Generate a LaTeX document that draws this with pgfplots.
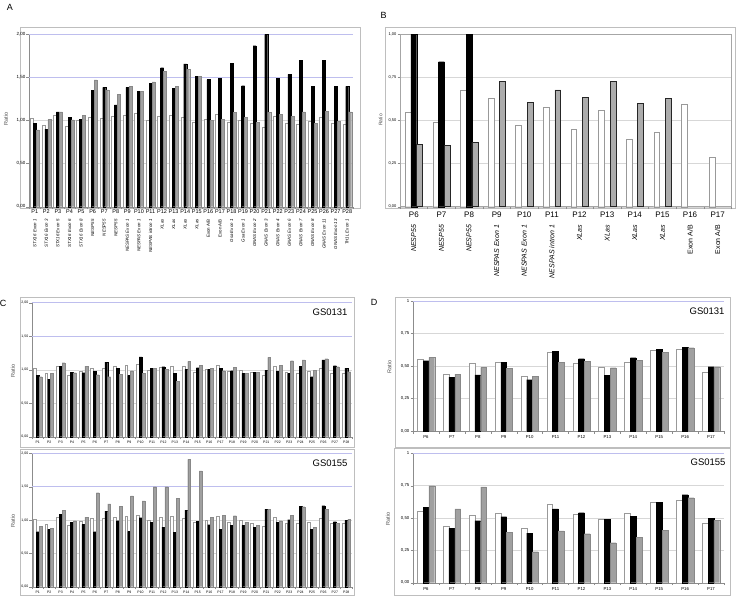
\documentclass[border=0pt]{standalone}
\usepackage{fontspec}
\setmainfont{Liberation Sans}
\usepackage{graphicx}
\usepackage{pgfplots}
\usepackage{pgfplotstable}
\pgfplotsset{compat=1.18}

\definecolor{gbar}{RGB}{160,160,160}
\definecolor{bgrid}{RGB}{190,190,238}
\definecolor{ggrid}{RGB}{215,215,215}
\definecolor{framec}{RGB}{190,190,190}

\newcommand\fs[1]{\fontsize{#1}{#1}\selectfont}
% two-level category labels: P number, then rotated region name
\newcommand\la[2]{\shortstack{#1\\[2.5pt]{\fs{4.4}\rotatebox{90}{\itshape #2}}}}
\newcommand\lb[2]{\shortstack{#1\\[4pt]{\fs{7}\rotatebox{90}{\itshape #2}}}}

\pgfplotstableread{
x w k g
1 1.025 0.967 0.89
2 0.948 0.90 1.01
3 1.056 1.10 1.10
4 0.93 1.037 1.006
5 0.998 1.017 1.06
6 1.033 1.35 1.47
7 1.03 1.385 1.354
8 1.048 1.18 1.304
9 1.064 1.385 1.393
10 1.083 1.335 1.342
11 1.006 1.43 1.447
12 1.052 1.613 1.574
13 1.064 1.377 1.393
14 1.044 1.656 1.594
15 0.979 1.516 1.51
16 1.017 1.474 1.002
17 1.075 1.486 1.017
18 0.979 1.66 1.095
19 1.006 1.404 1.04
20 0.967 1.868 0.979
21 0.928 2.00 1.095
22 1.052 1.49 1.07
23 0.971 1.536 1.048
24 0.955 1.70 1.10
25 0.99 1.40 0.967
26 1.04 1.70 1.11
27 0.967 1.397 0.994
28 0.955 1.397 1.10
}\tA

\pgfplotstableread{
x w k g
1 0.551 1.00 0.362
2 0.493 0.841 0.354
3 0.673 1.00 0.371
4 0.632 nan 0.725
5 0.474 nan 0.603
6 0.576 nan 0.677
7 0.449 nan 0.634
8 0.561 nan 0.725
9 0.393 nan 0.60
10 0.435 nan 0.627
11 0.596 nan nan
12 0.286 nan nan
}\tB

\pgfplotstableread{
x w k g
1 1.02 0.915 0.895
2 0.945 0.86 0.945
3 1.045 1.055 1.105
4 0.915 0.965 0.955
5 0.985 0.955 1.055
6 1.02 0.98 0.925
7 1.02 1.115 0.895
8 1.045 1.02 0.935
9 1.065 0.915 0.985
10 1.085 1.19 0.945
11 1.0 1.025 1.02
12 1.035 1.045 1.005
13 1.055 0.945 0.83
14 1.045 1.005 1.125
15 0.965 1.03 1.07
16 1.01 1.01 1.025
17 1.07 1.02 0.985
18 0.98 0.985 1.035
19 0.995 0.945 0.945
20 0.96 0.96 0.96
21 0.915 0.995 1.185
22 1.055 0.98 1.07
23 0.965 0.945 1.135
24 0.95 1.05 1.145
25 0.98 0.895 0.995
26 1.025 1.145 1.165
27 0.955 1.06 1.045
28 0.95 1.025 0.97
}\tCa

\pgfplotstableread{
x w k g
1 1.01 0.825 0.91
2 0.94 0.86 0.875
3 1.04 1.085 1.145
4 0.92 0.965 0.99
5 0.98 0.935 1.045
6 1.02 0.825 1.41
7 1.02 1.135 1.24
8 1.04 0.99 1.205
9 1.055 0.83 1.36
10 1.07 1.035 1.285
11 0.99 0.965 1.50
12 1.035 0.895 1.50
13 1.055 0.82 1.325
14 1.03 1.15 1.91
15 0.97 0.98 1.735
16 1.0 0.93 1.04
17 1.06 0.865 1.07
18 0.97 0.92 1.065
19 0.995 0.92 0.965
20 0.955 0.895 0.92
21 0.91 1.165 1.16
22 1.04 0.965 0.99
23 0.95 1.005 1.07
24 0.95 1.205 1.20
25 0.97 0.86 0.89
26 1.025 1.215 1.165
27 0.955 0.975 0.95
28 0.945 0.995 1.01
}\tCb

\pgfplotstableread{
x w k g
1 0.551 0.541 0.567
2 0.436 0.415 0.438
3 0.521 0.431 0.49
4 0.533 0.526 0.482
5 0.423 0.395 0.421
6 0.605 0.615 0.528
7 0.523 0.556 0.536
8 0.487 0.426 0.487
9 0.531 0.564 0.546
10 0.618 0.628 0.605
11 0.631 0.644 0.641
12 0.454 0.495 0.495
}\tDa

\pgfplotstableread{
x w k g
1 0.554 0.582 0.75
2 0.438 0.42 0.57
3 0.521 0.479 0.74
4 0.536 0.51 0.389
5 0.425 0.384 0.24
6 0.606 0.57 0.40
7 0.528 0.541 0.379
8 0.49 0.492 0.309
9 0.536 0.513 0.35
10 0.621 0.621 0.407
11 0.637 0.68 0.657
12 0.461 0.497 0.482
}\tDb

\pgfplotsset{
  panel/.style={
    scale only axis, anchor=north west, ybar=0pt, ymin=0, clip=false,
    axis x line*=bottom, axis y line*=left,
    axis line style={-, draw=gray!90, line width=0.4pt},
    xmin=0.5, enlarge x limits=false,
    major x tick style={draw=none},
    minor x tick style={draw=gray!90, line width=0.3pt},
    ytick style={draw=gray!90, line width=0.3pt},
    major tick length=2.5pt, minor tick length=2.5pt, tick align=outside,
    ymajorgrids, major grid style={ggrid, line width=0.4pt},
    extra y tick style={grid=major, major grid style={bgrid, line width=0.6pt}},
    yticklabel style={inner sep=1pt},
    xticklabel style={inner sep=0.5pt, anchor=north},
  },
  wb/.style={fill=white, draw=gray!80, line width=0.4pt},
  kb/.style={fill=black, draw=black, line width=0.3pt},
  gb/.style={fill=gbar, draw=gbar!85!black, line width=0.3pt},
}

\begin{document}
\begin{tikzpicture}
\useasboundingbox (0,0) rectangle (740pt,-598pt);

% panel frames
\draw[framec, line width=0.6pt] (20pt,-27pt) rectangle (360pt,-208pt);
\draw[framec, line width=0.6pt] (385pt,-27pt) rectangle (735pt,-208pt);
\draw[framec, line width=0.6pt] (20pt,-297pt) rectangle (354pt,-447pt);
\draw[framec, line width=0.6pt] (20pt,-449pt) rectangle (354pt,-595pt);
\draw[framec, line width=0.6pt] (395pt,-297pt) rectangle (730pt,-447pt);
\draw[framec, line width=0.6pt] (394pt,-448pt) rectangle (730pt,-595pt);

% ---- A
\begin{axis}[panel, at={(29pt,-34.3pt)}, width=324pt, height=172.4pt,
  xmax=28.5, ymax=2, bar width=3pt,
  ytick={0,0.5,1}, yticklabels={{0,00},{0,50},{1,00}},
  extra y ticks={1.5,2}, extra y tick labels={{1,50},{2,00}},
  yticklabel style={font=\fs{4.5}},
  xtick={1,...,28}, minor xtick={0.5,1.5,...,28.5},
  xticklabel style={font=\fs{5.5}},
  xticklabels={\la{P1}{STX16 Exon 1},\la{P2}{STX16 Exon 3},\la{P3}{STX16 Exon 5},
    \la{P4}{STX16 Exon 6},\la{P5}{STX16 Exon 8},\la{P6}{NESP55},\la{P7}{NESP55},
    \la{P8}{NESP55},\la{P9}{NESPAS Exon 1},\la{P10}{NESPAS Exon 1},
    \la{P11}{NESPAS intron 1},\la{P12}{XLas},\la{P13}{XLas},\la{P14}{XLas},
    \la{P15}{XLas},\la{P16}{\upshape Exon A/B},\la{P17}{\upshape Exon A/B},
    \la{P18}{Gsa Exon 1},\la{P19}{Gsa Exon 1},\la{P20}{GNAS Exon 2},
    \la{P21}{GNAS Exon 3},\la{P22}{GNAS Exon 4},\la{P23}{GNAS Exon 6},
    \la{P24}{GNAS Exon 7},\la{P25}{GNAS Exon 8},\la{P26}{GNAS Exon 11},
    \la{P27}{GNAS Exon 13},\la{P28}{TH1L Exon 1}}]
\addplot[wb] table[x=x,y=w]{\tA};
\addplot[kb] table[x=x,y=k]{\tA};
\addplot[gb] table[x=x,y=g]{\tA};
\end{axis}

% ---- B
\begin{axis}[panel, at={(400pt,-34.3pt)}, width=331.5pt, height=172.4pt,
  axis lines=box, axis line style={draw=gray!70, line width=0.5pt}, tick pos=left,
  xmax=12.5, ymax=1, bar width=5.8pt,
  ytick={0,0.25,0.5,0.75,1}, yticklabels={{0,00},{0,25},{0,50},{0,75},{1,00}},
  yticklabel style={font=\fs{4}},
  xtick={1,...,12}, minor xtick={0.5,1.5,...,12.5},
  xticklabel style={font=\fs{8}, inner sep=3pt},
  xticklabels={\lb{P6}{NESP55},\lb{P7}{NESP55},\lb{P8}{NESP55},
    \lb{P9}{NESPAS Exon 1},\lb{P10}{NESPAS Exon 1},\lb{P11}{NESPAS intron 1},
    \lb{P12}{XLas},\lb{P13}{XLas},\lb{P14}{XLas},\lb{P15}{XLas},
    \lb{P16}{\upshape Exon A/B},\lb{P17}{\upshape Exon A/B}}]
\addplot[wb] table[x=x,y=w]{\tB};
\addplot[kb] table[x=x,y=k]{\tB};
\addplot[gb, fill=gray!65, draw=gray!30!black, line width=0.5pt] table[x=x,y=g]{\tB};
\end{axis}

% ---- C top
\begin{axis}[panel, at={(32pt,-302.7pt)}, width=320pt, height=134pt,
  xmax=28.5, ymax=2, bar width=2.9pt,
  ytick={0,0.5,1}, yticklabels={{0,00},{0,50},{1,00}},
  extra y ticks={1.5,2}, extra y tick labels={{1,50},{2,00}},
  yticklabel style={font=\fs{3.5}},
  xtick={1,...,28}, minor xtick={0.5,1.5,...,28.5},
  xticklabel style={font=\fs{3.5}, inner sep=1.5pt},
  xticklabels={P1,P2,P3,P4,P5,P6,P7,P8,P9,P10,P11,P12,P13,P14,P15,P16,P17,P18,P19,P20,P21,P22,P23,P24,P25,P26,P27,P28}]
\addplot[wb] table[x=x,y=w]{\tCa};
\addplot[kb] table[x=x,y=k]{\tCa};
\addplot[gb] table[x=x,y=g]{\tCa};
\end{axis}

% ---- C bottom
\begin{axis}[panel, at={(32pt,-453.3pt)}, width=320pt, height=133.4pt,
  xmax=28.5, ymax=2, bar width=2.9pt,
  ytick={0,0.5,1}, yticklabels={{0,00},{0,50},{1,00}},
  extra y ticks={1.5,2}, extra y tick labels={{1,50},{2,00}},
  yticklabel style={font=\fs{3.5}},
  xtick={1,...,28}, minor xtick={0.5,1.5,...,28.5},
  xticklabel style={font=\fs{3.5}, inner sep=1.5pt},
  xticklabels={P1,P2,P3,P4,P5,P6,P7,P8,P9,P10,P11,P12,P13,P14,P15,P16,P17,P18,P19,P20,P21,P22,P23,P24,P25,P26,P27,P28}]
\addplot[wb] table[x=x,y=w]{\tCb};
\addplot[kb] table[x=x,y=k]{\tCb};
\addplot[gb] table[x=x,y=g]{\tCb};
\end{axis}

% ---- D top
\begin{axis}[panel, at={(413pt,-301pt)}, width=311pt, height=130pt,
  xmax=12.5, ymax=1, bar width=5.8pt,
  ytick={0,0.25,0.5,0.75}, yticklabels={{0,00},{0,25},{0,50},{0,75}},
  extra y ticks={1}, extra y tick labels={{1,00}},
  yticklabel style={font=\fs{4.3}},
  xtick={1,...,12}, minor xtick={0.5,1.5,...,12.5},
  xticklabel style={font=\fs{4.3}, inner sep=2pt},
  xticklabels={P6,P7,P8,P9,P10,P11,P12,P13,P14,P15,P16,P17}]
\addplot[wb] table[x=x,y=w]{\tDa};
\addplot[kb] table[x=x,y=k]{\tDa};
\addplot[gb] table[x=x,y=g]{\tDa};
\end{axis}

% ---- D bottom
\begin{axis}[panel, at={(413pt,-453.3pt)}, width=311pt, height=129.4pt,
  xmax=12.5, ymax=1, bar width=5.8pt,
  ytick={0,0.25,0.5,0.75}, yticklabels={{0,00},{0,25},{0,50},{0,75}},
  extra y ticks={1}, extra y tick labels={{1,00}},
  yticklabel style={font=\fs{4.3}},
  xtick={1,...,12}, minor xtick={0.5,1.5,...,12.5},
  xticklabel style={font=\fs{4.3}, inner sep=2pt},
  xticklabels={P6,P7,P8,P9,P10,P11,P12,P13,P14,P15,P16,P17}]
\addplot[wb] table[x=x,y=w]{\tDb};
\addplot[kb] table[x=x,y=k]{\tDb};
\addplot[gb] table[x=x,y=g]{\tDb};
\end{axis}

% panel letters, axis titles, sample names
\node[font=\fs{9}] at (10pt,-7pt) {A};
\node[font=\fs{9}] at (383.5pt,-15pt) {B};
\node[font=\fs{9}] at (3pt,-303.5pt) {C};
\node[font=\fs{9}] at (374pt,-302pt) {D};
\node[font=\fs{5.5}, rotate=90, gray!60!black] at (6pt,-119pt) {Ratio};
\node[font=\fs{5}, rotate=90, gray!60!black] at (380.5pt,-120pt) {Ratio};
\node[font=\fs{5.5}, rotate=90, gray!60!black] at (13pt,-371pt) {Ratio};
\node[font=\fs{5.5}, rotate=90, gray!60!black] at (13pt,-521pt) {Ratio};
\node[font=\fs{5.5}, rotate=90, gray!60!black] at (389.5pt,-367pt) {Ratio};
\node[font=\fs{5.5}, rotate=90, gray!60!black] at (388pt,-519pt) {Ratio};
\node[font=\fs{9.5}, anchor=east] at (351pt,-312pt) {GS0131};
\node[font=\fs{9.5}, anchor=east] at (351pt,-463pt) {GS0155};
\node[font=\fs{9.5}, anchor=east] at (728pt,-311pt) {GS0131};
\node[font=\fs{9.5}, anchor=east] at (729pt,-462pt) {GS0155};
\end{tikzpicture}
\end{document}
